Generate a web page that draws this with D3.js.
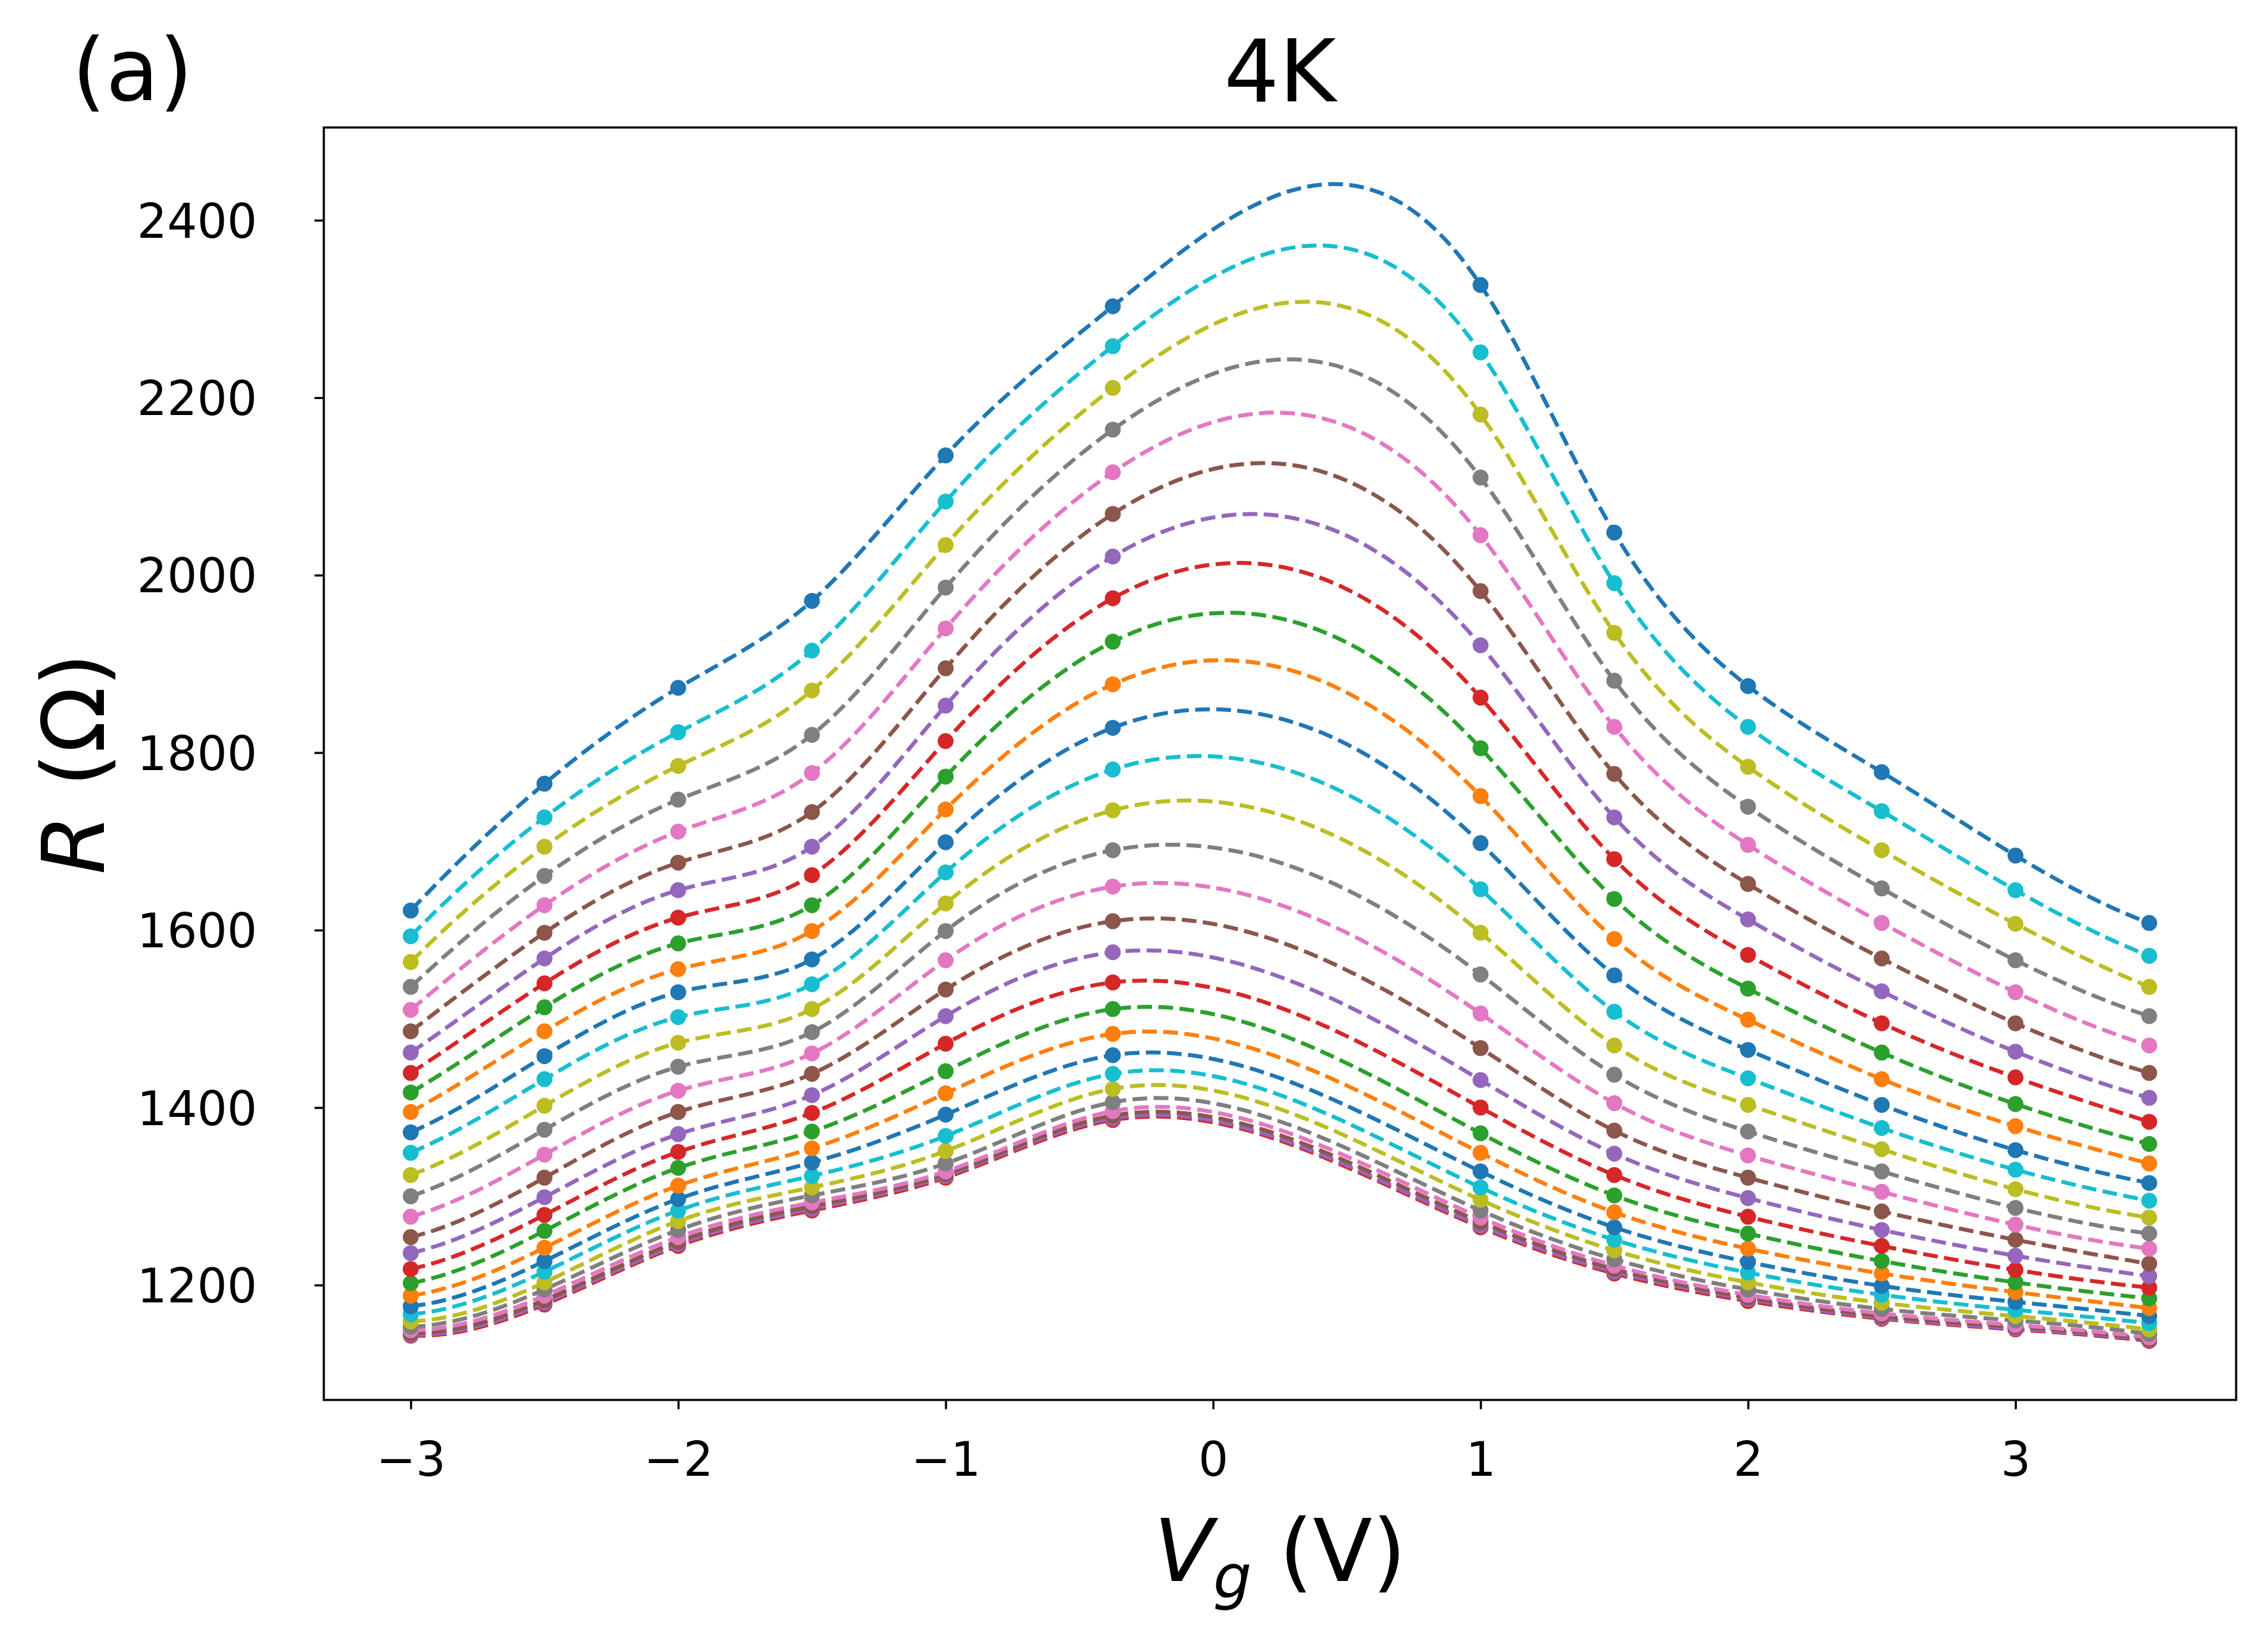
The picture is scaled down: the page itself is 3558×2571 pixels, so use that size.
<!DOCTYPE html>
<html><head><meta charset="utf-8">
<script src="https://cdn.jsdelivr.net/npm/d3@7"></script>
<style>body{margin:0;background:#fff;} svg{display:block;}</style>
</head><body>
<script>
// ---- data ----
const vg = [-3, -2.5, -2, -1.5, -1, -0.375, 1, 1.5, 2, 2.5, 3, 3.5];
// series listed from the top curve (plotted last) to the bottom curve
const r01 = [1622, 1765, 1873, 1971, 2135, 2303, 2327, 2048, 1875, 1778, 1684, 1608];
const r02 = [1593, 1727, 1823, 1915, 2083, 2258, 2251, 1991, 1829, 1734, 1645, 1571];
const r03 = [1564, 1694, 1785, 1870, 2034, 2211, 2181, 1935, 1784, 1690, 1607, 1536];
const r04 = [1536, 1661, 1747, 1820, 1986, 2164, 2110, 1881, 1739, 1647, 1566, 1503];
const r05 = [1510, 1628, 1711, 1777, 1940, 2116, 2045, 1829, 1696, 1608, 1530, 1470];
const r06 = [1486, 1597, 1676, 1733, 1895, 2069, 1982, 1776, 1652, 1568, 1495, 1439];
const r07 = [1462, 1568, 1645, 1694, 1853, 2021, 1921, 1727, 1612, 1531, 1463, 1411];
const r08 = [1439, 1540, 1614, 1662, 1813, 1974, 1862, 1680, 1572, 1495, 1434, 1384];
const r09 = [1417, 1513, 1585, 1628, 1773, 1925, 1805, 1635, 1534, 1462, 1404, 1359];
const r10 = [1395, 1486, 1556, 1599, 1736, 1877, 1751, 1590, 1499, 1432, 1379, 1337];
const r11 = [1372, 1458, 1530, 1567, 1699, 1828, 1698, 1549, 1465, 1403, 1352, 1315];
const r12 = [1349, 1432, 1502, 1539, 1665, 1781, 1646, 1508, 1433, 1377, 1330, 1295];
const r13 = [1324, 1402, 1473, 1511, 1630, 1735, 1597, 1470, 1403, 1353, 1308, 1276];
const r14 = [1300, 1375, 1446, 1485, 1599, 1690, 1550, 1437, 1373, 1328, 1287, 1258];
const r15 = [1277, 1347, 1419, 1461, 1566, 1649, 1506, 1405, 1346, 1305, 1268, 1241];
const r16 = [1254, 1321, 1395, 1438, 1533, 1610, 1467, 1374, 1321, 1283, 1251, 1224];
const r17 = [1236, 1299, 1370, 1414, 1503, 1575, 1431, 1348, 1298, 1262, 1233, 1210];
const r18 = [1218, 1279, 1350, 1394, 1472, 1541, 1400, 1324, 1277, 1244, 1217, 1197];
const r19 = [1202, 1261, 1332, 1373, 1441, 1511, 1371, 1301, 1258, 1227, 1203, 1185];
const r20 = [1188, 1242, 1312, 1354, 1416, 1483, 1349, 1282, 1241, 1213, 1192, 1174];
const r21 = [1176, 1227, 1297, 1338, 1392, 1459, 1328, 1265, 1226, 1199, 1181, 1165];
const r22 = [1167, 1215, 1284, 1323, 1368, 1438, 1310, 1251, 1214, 1189, 1172, 1157];
const r23 = [1159, 1203, 1272, 1310, 1351, 1421, 1296, 1239, 1203, 1180, 1165, 1150];
const r24 = [1153, 1195, 1262, 1301, 1337, 1406, 1284, 1229, 1195, 1173, 1160, 1145];
const r25 = [1149, 1188, 1254, 1293, 1328, 1396, 1276, 1222, 1189, 1168, 1155, 1141];
const r26 = [1146, 1183, 1249, 1289, 1325, 1391, 1271, 1218, 1186, 1165, 1153, 1139];
const r27 = [1144, 1180, 1246, 1286, 1323, 1388, 1267, 1215, 1184, 1163, 1151, 1138];
const r28 = [1143, 1178, 1244, 1284, 1321, 1386, 1265, 1213, 1182, 1162, 1150, 1137];
const seriesTopDown = [r01,r02,r03,r04,r05,r06,r07,r08,r09,r10,r11,r12,r13,r14,r15,r16,r17,r18,r19,r20,r21,r22,r23,r24,r25,r26,r27,r28];

const xTicks = [-3, -2, -1, 0, 1, 2, 3];
const yTicks = [1200, 1400, 1600, 1800, 2000, 2200, 2400];
const titleText = "4K";
const panelText = "(a)";
const tab10 = ["#1f77b4","#ff7f0e","#2ca02c","#d62728","#9467bd","#8c564b","#e377c2","#7f7f7f","#bcbd22","#17becf"];

// ---- layout ----
const W = 3558, H = 2571;
const L = 508, R = 3508, T = 200, B = 2196;
const PT = 300/72;

const svg = d3.select("body").append("svg").attr("width", W).attr("height", H)
  .style("font-family", "'DejaVu Sans', sans-serif");
svg.append("rect").attr("width", W).attr("height", H).attr("fill", "#fff");

const x = d3.scaleLinear().domain([-3.325, 3.825]).range([L, R]);
const y = d3.scaleLinear().domain([1070.5, 2504.5]).range([B, T]);

// not-a-knot cubic spline curve for d3.line
function solve(A, b) {
  const n = b.length;
  for (let c = 0; c < n; c++) {
    let p = c;
    for (let r = c + 1; r < n; r++) if (Math.abs(A[r][c]) > Math.abs(A[p][c])) p = r;
    [A[c], A[p]] = [A[p], A[c]]; [b[c], b[p]] = [b[p], b[c]];
    for (let r = c + 1; r < n; r++) {
      const f = A[r][c] / A[c][c];
      for (let k = c; k < n; k++) A[r][k] -= f * A[c][k];
      b[r] -= f * b[c];
    }
  }
  const s = new Array(n).fill(0);
  for (let r = n - 1; r >= 0; r--) {
    let v = b[r];
    for (let k = r + 1; k < n; k++) v -= A[r][k] * s[k];
    s[r] = v / A[r][r];
  }
  return s;
}
function splineSlopes(xs, ys) {
  const n = xs.length, h = [];
  for (let i = 0; i < n - 1; i++) h.push(xs[i + 1] - xs[i]);
  const A = Array.from({length: n}, () => new Array(n).fill(0));
  const b = new Array(n).fill(0);
  A[0][0] = -h[1]; A[0][1] = h[0] + h[1]; A[0][2] = -h[0];
  for (let i = 1; i < n - 1; i++) {
    A[i][i - 1] = h[i - 1]; A[i][i] = 2 * (h[i - 1] + h[i]); A[i][i + 1] = h[i];
    b[i] = 6 * ((ys[i + 1] - ys[i]) / h[i] - (ys[i] - ys[i - 1]) / h[i - 1]);
  }
  A[n - 1][n - 3] = -h[n - 2]; A[n - 1][n - 2] = h[n - 3] + h[n - 2]; A[n - 1][n - 1] = -h[n - 3];
  const M = solve(A, b);
  const m = [];
  for (let i = 0; i < n - 1; i++) m.push((ys[i + 1] - ys[i]) / h[i] - h[i] * (2 * M[i] + M[i + 1]) / 6);
  m.push((ys[n - 1] - ys[n - 2]) / h[n - 2] + h[n - 2] * (M[n - 2] + 2 * M[n - 1]) / 6);
  return m;
}
function curveSpline(context) {
  let xs, ys;
  return {
    areaStart() {}, areaEnd() {},
    lineStart() { xs = []; ys = []; },
    point(px, py) { xs.push(+px); ys.push(+py); },
    lineEnd() {
      const n = xs.length;
      if (!n) return;
      context.moveTo(xs[0], ys[0]);
      if (n < 4) { for (let i = 1; i < n; i++) context.lineTo(xs[i], ys[i]); return; }
      const m = splineSlopes(xs, ys);
      for (let i = 0; i < n - 1; i++) {
        const h = xs[i + 1] - xs[i];
        context.bezierCurveTo(xs[i] + h / 3, ys[i] + m[i] * h / 3, xs[i + 1] - h / 3, ys[i + 1] - m[i + 1] * h / 3, xs[i + 1], ys[i + 1]);
      }
    }
  };
}

const plotG = svg.append("g");
const defs = svg.append("defs");
defs.append("clipPath").attr("id", "clip").append("rect").attr("x", L).attr("y", T).attr("width", R - L).attr("height", B - T);
plotG.attr("clip-path", "url(#clip)");

const line = d3.line().x((d, i) => x(vg[i])).y(d => y(d)).curve(curveSpline);
const lw = 1.5 * PT;
const nS = seriesTopDown.length;
for (let k = nS - 1; k >= 0; k--) {
  const vals = seriesTopDown[k];
  const col = tab10[((-k) % 10 + 10) % 10];
  plotG.append("path").attr("d", line(vals)).attr("fill", "none").attr("stroke", col)
    .attr("stroke-width", lw).attr("stroke-dasharray", `${3.7 * lw},${1.6 * lw}`);
  plotG.selectAll(null).data(vals).enter().append("circle")
    .attr("cx", (d, i) => x(vg[i])).attr("cy", d => y(d)).attr("r", 2.5 * PT + 0.5 * PT * 0.5)
    .attr("fill", col).attr("stroke", col).attr("stroke-width", 0.5 * PT);
}

// axes
const tickLen = 3.5 * PT, tickW = 0.8 * PT;
const tickFont = 74;
const xAxis = d3.axisBottom(x).tickValues(xTicks).tickSize(tickLen).tickPadding(52)
  .tickFormat(d => (d < 0 ? "\u2212" : "") + Math.abs(d));
const yAxis = d3.axisLeft(y).tickValues(yTicks).tickSize(tickLen).tickPadding(90)
  .tickFormat(d3.format("d"));
const gx = svg.append("g").attr("transform", `translate(0,${B})`).call(xAxis);
const gy = svg.append("g").attr("transform", `translate(${L},0)`).call(yAxis);
[gx, gy].forEach(g => {
  g.select(".domain").remove();
  g.selectAll(".tick line").attr("stroke", "#000").attr("stroke-width", tickW);
  g.selectAll(".tick text").attr("fill", "#000").style("font-size", tickFont + "px").style("font-family", "'DejaVu Sans', sans-serif");
});
gy.selectAll(".tick text").attr("dy", "0.36em");
svg.append("rect").attr("x", L).attr("y", T).attr("width", R - L).attr("height", B - T)
  .attr("fill", "none").attr("stroke", "#000").attr("stroke-width", tickW);

// labels
const bigFont = 136;
svg.append("text").attr("x", (L + R) / 2).attr("y", 159).attr("text-anchor", "middle")
  .style("font-size", bigFont + "px").text(titleText);
svg.append("text").attr("x", 113).attr("y", 157).style("font-size", bigFont + "px").text(panelText);

const xl = svg.append("text").attr("x", (L + R) / 2).attr("y", 2480).attr("text-anchor", "middle").style("font-size", bigFont + "px");
xl.append("tspan").style("font-style", "italic").text("V");
xl.append("tspan").style("font-style", "italic").style("font-size", Math.round(bigFont * 0.7) + "px").attr("dy", 27).text("g");
xl.append("tspan").attr("dy", -27).text(" (V)");

const yl = svg.append("text").attr("transform", `translate(163,${(T + B) / 2}) rotate(-90)`).attr("text-anchor", "middle").style("font-size", bigFont + "px");
yl.append("tspan").style("font-style", "italic").text("R");
yl.append("tspan").text(" (\u03A9)");
</script>
</body></html>
